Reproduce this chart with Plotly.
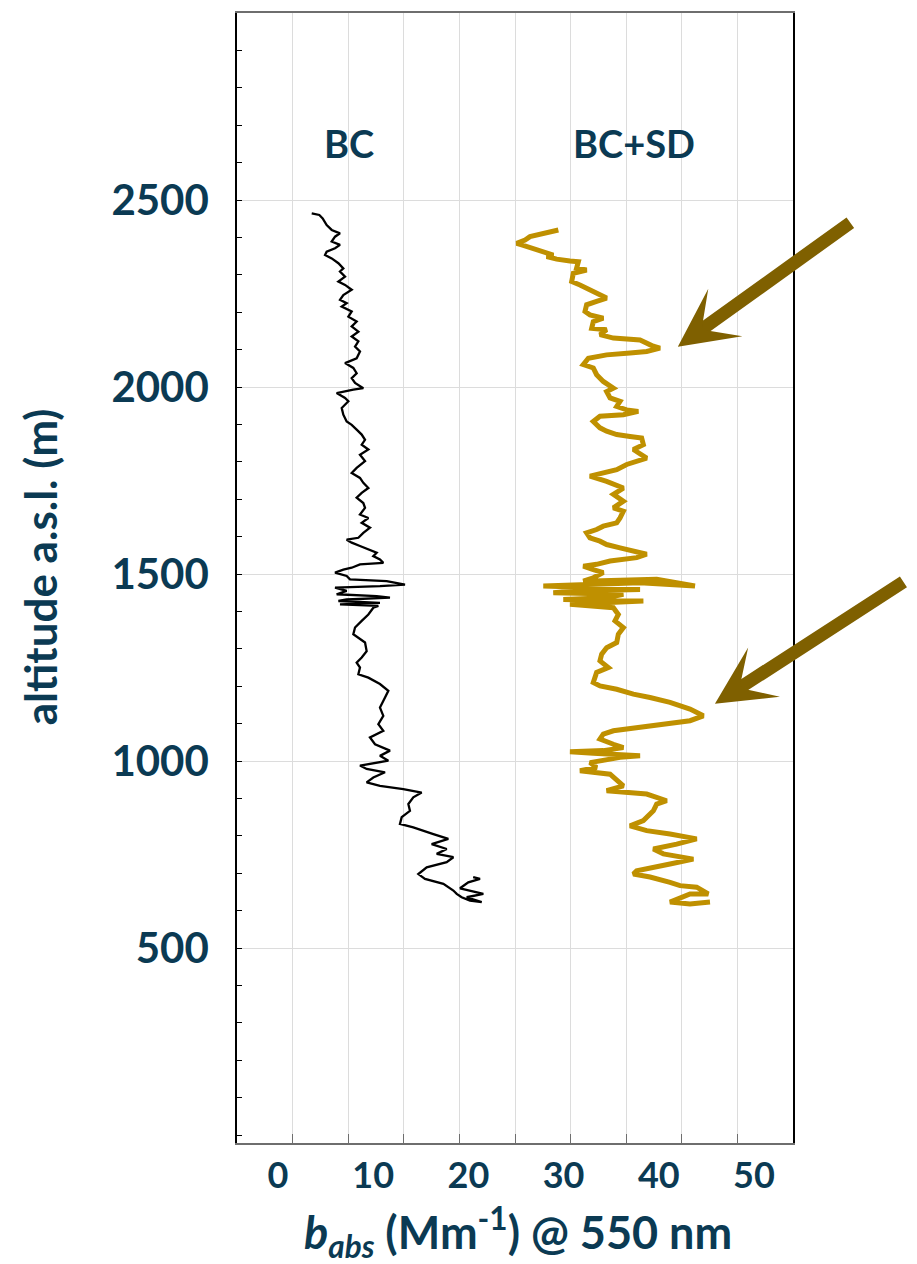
import plotly.graph_objects as go

# ---- data ----
bc_alt = [2464, 2460, 2451, 2433, 2420, 2411, 2402, 2389, 2380, 2371, 2362, 2353, 2344, 2331, 2317, 2309,
          2295, 2282, 2273, 2260, 2246, 2233, 2224, 2215, 2202, 2188, 2175, 2162, 2148, 2135, 2122, 2108,
          2095, 2077, 2064, 2051, 2037, 2024, 2011, 1997, 1993, 1984, 1971, 1962, 1944, 1926, 1908, 1899,
          1886, 1873, 1859, 1846, 1833, 1819, 1802, 1784, 1770, 1757, 1744, 1730, 1717, 1704, 1690, 1677,
          1659, 1650, 1637, 1624, 1610, 1597, 1592, 1584, 1575, 1566, 1557, 1548, 1539, 1530, 1526, 1517,
          1512, 1504, 1495, 1486, 1481, 1472, 1468, 1464, 1455, 1446, 1441, 1437, 1432, 1428, 1423, 1419,
          1415, 1410, 1392, 1375, 1357, 1339, 1317, 1294, 1277, 1263, 1250, 1232, 1223, 1206, 1188, 1170,
          1143, 1121, 1099, 1081, 1063, 1045, 1028, 1014, 1001, 988, 979, 970, 956, 943, 934, 925, 916,
          903, 885, 867, 850, 832, 823, 805, 792, 778, 765, 752, 743, 730, 716, 698, 685, 672, 654, 645,
          636, 627, 623, 636, 645, 660, 676, 685, 690]
bc_val = [3.54, 4.34, 4.69, 5.11, 5.64, 6.51, 5.99, 5.64, 6.51, 5.99, 5.11, 4.94, 5.64, 6.34, 6.86, 6.51,
          7.04, 6.34, 7.04, 7.74, 6.86, 6.51, 7.21, 6.69, 7.74, 7.39, 8.26, 7.74, 8.44, 7.74, 8.44, 8.09,
          8.61, 8.26, 7.04, 7.91, 8.26, 7.74, 8.09, 8.96, 7.91, 6.16, 7.04, 7.39, 6.69, 6.86, 7.21, 7.74,
          8.26, 8.79, 9.14, 8.79, 9.49, 8.61, 9.14, 8.26, 7.74, 8.61, 8.96, 9.49, 8.79, 8.26, 8.96, 9.14,
          8.61, 9.49, 8.79, 9.66, 8.96, 8.44, 7.21, 7.74, 8.61, 9.49, 10.36, 10.01, 10.71, 11.06, 8.61, 7.74,
          6.86, 5.99, 7.21, 7.56, 11.41, 13.34, 10.71, 5.99, 7.21, 6.16, 10.36, 11.76, 7.21, 6.34, 10.71, 6.51,
          10.54, 10.01, 9.49, 8.79, 8.09, 7.91, 9.14, 9.31, 8.79, 8.26, 8.61, 8.44, 9.49, 10.71, 11.59, 11.24,
          10.71, 11.06, 10.54, 11.06, 9.66, 10.19, 11.76, 10.71, 11.59, 8.61, 9.31, 11.24, 10.01, 9.31, 10.71, 13.16, 15.09,
          14.21, 13.69, 13.86, 12.99, 12.81, 14.21, 16.32, 17.89, 16.14, 17.72, 16.67, 18.42, 17.72, 15.62, 14.74, 15.44, 17.37, 18.42, 18.77,
          19.29, 20.17, 21.40, 19.82, 21.57, 19.12, 19.99, 21.22, 20.50]

sd_alt = [2420, 2415, 2411, 2407, 2402, 2393, 2384, 2380, 2371, 2362, 2353, 2349, 2342, 2337, 2335, 2318,
          2313, 2304, 2282, 2273, 2264, 2251, 2238, 2229, 2220, 2202, 2193, 2184, 2175, 2157, 2153, 2140,
          2131, 2126, 2117, 2109, 2104, 2095, 2091, 2086, 2077, 2060, 2051, 2033, 2015, 1997, 1988, 1971,
          1962, 1948, 1939, 1935, 1926, 1922, 1908, 1891, 1882, 1873, 1868, 1864, 1846, 1833, 1810, 1793,
          1779, 1770, 1762, 1748, 1739, 1730, 1713, 1695, 1677, 1668, 1650, 1637, 1628, 1619, 1610, 1597,
          1588, 1579, 1570, 1561, 1553, 1544, 1539, 1535, 1526, 1521, 1512, 1504, 1490, 1481, 1486, 1468,
          1477, 1468, 1464, 1459, 1455, 1450, 1446, 1437, 1432, 1428, 1419, 1415, 1410, 1392, 1375, 1357,
          1339, 1317, 1303, 1286, 1268, 1250, 1237, 1210, 1201, 1192, 1179, 1170, 1157, 1139, 1121, 1108,
          1099, 1090, 1081, 1072, 1059, 1045, 1036, 1028, 1025, 1021, 1014, 1010, 996, 983, 974, 965,
          948, 934, 921, 916, 912, 894, 885, 867, 841, 827, 814, 805, 792, 778, 765, 752,
          738, 725, 707, 698, 690, 676, 667, 663, 645, 645, 623, 618, 623]
sd_val = [29.45, 28.57, 27.87, 27.35, 26.47, 25.95, 25.07, 25.60, 26.82, 28.05, 28.92, 28.22, 29.27, 30.67, 31.55, 31.37,
          32.42, 31.02, 30.85, 31.72, 32.42, 33.47, 34.52, 33.47, 32.42, 32.25, 32.77, 34.17, 33.12, 32.95, 34.52, 33.82,
          35.23, 38.03, 38.73, 39.43, 40.13, 38.73, 36.98, 34.52, 32.60, 32.07, 33.12, 33.47, 34.17, 35.23, 34.52, 34.88,
          35.93, 35.58, 36.63, 37.85, 36.28, 33.82, 33.12, 33.82, 34.52, 35.58, 36.98, 38.20, 38.38, 37.33, 38.73, 36.63,
          35.58, 33.82, 32.77, 34.52, 35.58, 36.28, 35.23, 36.28, 35.23, 36.28, 35.93, 35.58, 34.17, 33.47, 32.42, 32.77,
          33.82, 34.52, 35.93, 37.68, 38.73, 37.68, 36.28, 34.88, 33.47, 32.07, 33.12, 34.17, 33.12, 32.07, 39.78, 43.80,
          38.03, 27.87, 32.77, 38.03, 31.02, 28.92, 36.28, 34.52, 29.97, 38.38, 30.67, 33.82, 35.23, 35.75, 35.40, 36.28,
          35.75, 35.58, 34.52, 34.00, 33.82, 34.70, 33.47, 33.12, 33.82, 35.58, 37.33, 39.08, 41.18, 43.28, 44.68, 43.28,
          40.48, 37.33, 35.23, 34.17, 33.82, 35.23, 36.28, 34.17, 30.67, 33.12, 38.03, 35.93, 32.77, 33.47, 31.72, 34.88,
          35.58, 36.28, 34.52, 36.63, 38.73, 40.83, 39.78, 39.43, 38.38, 36.98, 38.73, 41.18, 43.98, 41.88, 39.43, 40.48,
          43.63, 41.18, 37.68, 37.33, 39.08, 41.18, 42.23, 43.98, 45.20, 43.28, 41.18, 43.28, 45.38]

x_ticks = [0, 10, 20, 30, 40, 50]
y_ticks = [500, 1000, 1500, 2000, 2500]

NAVY = "#0b3a53"
FONT = "Lato"

fig = go.Figure()
fig.add_trace(go.Scatter(x=bc_val, y=bc_alt, mode="lines",
                         line=dict(color="black", width=2.3), showlegend=False))
fig.add_trace(go.Scatter(x=sd_val, y=sd_alt, mode="lines",
                         line=dict(color="#bf9000", width=5), showlegend=False))
# empty trace so the overlaid grid/tick axis is drawn
fig.add_trace(go.Scatter(x=[None], y=[None], xaxis="x2", yaxis="y", mode="lines",
                         showlegend=False, hoverinfo="skip"))

fig.update_layout(
    width=909, height=1256,
    margin=dict(l=229, r=124, t=3, b=121),
    plot_bgcolor="white", paper_bgcolor="white",
    xaxis=dict(range=[-4.31, 54.1], tickvals=x_ticks, showgrid=False, zeroline=False,
               showline=True, linecolor="#6e6e6e", linewidth=1.5, mirror=True, ticks="",
               tickfont=dict(family=FONT, size=36, color=NAVY, weight="bold"),
               ticklabelstandoff=0),
    xaxis2=dict(overlaying="x", anchor="y", side="bottom", range=[0, 10], dtick=1,
                showgrid=True, gridcolor="#dcdcdc", gridwidth=1, zeroline=False,
                ticks="inside", ticklen=9, tickcolor="#6e6e6e", showticklabels=False),
    yaxis=dict(range=[-21, 3000], tickvals=y_ticks, showgrid=True, gridcolor="#dcdcdc",
               zeroline=False, showline=True, linecolor="black", linewidth=1.5, mirror=True,
               ticks="inside", ticklen=5, tickcolor="black",
               minor=dict(dtick=100, tick0=0, ticks="inside", ticklen=5, tickcolor="black", showgrid=False),
               tickfont=dict(family=FONT, size=42, color=NAVY, weight="bold"),
               ticklabelstandoff=18),
)

fig.add_annotation(xref="paper", yref="paper", x=-0.355, y=0.51, text="altitude a.s.l. (m)",
                   textangle=-90, showarrow=False, xanchor="center", yanchor="middle",
                   font=dict(family=FONT, size=44, color=NAVY, weight="bold"))
fig.add_annotation(xref="paper", yref="paper", x=0.505, y=-0.079,
                   text="<i>b<sub>abs</sub></i> (Mm<sup>-1</sup>) @ 550 nm",
                   showarrow=False, xanchor="center", yanchor="middle",
                   font=dict(family=FONT, size=45, color=NAVY, weight="bold"))
fig.add_annotation(x=7.46, y=2652, text="BC", showarrow=False,
                   font=dict(family=FONT, size=38, color=NAVY, weight="bold"))
fig.add_annotation(x=37.4, y=2652, text="BC+SD", showarrow=False,
                   font=dict(family=FONT, size=38, color=NAVY, weight="bold"))

for tx, ty, dx, dy in [(42.0, 2108, 174, -125), (45.9, 1153, 190, -123)]:
    fig.add_annotation(x=tx, y=ty, ax=dx, ay=dy, text="", showarrow=True,
                       arrowhead=3, arrowsize=0.75, arrowwidth=13, arrowcolor="#7f6000",
                       standoff=0)

fig.write_html("out.html")
